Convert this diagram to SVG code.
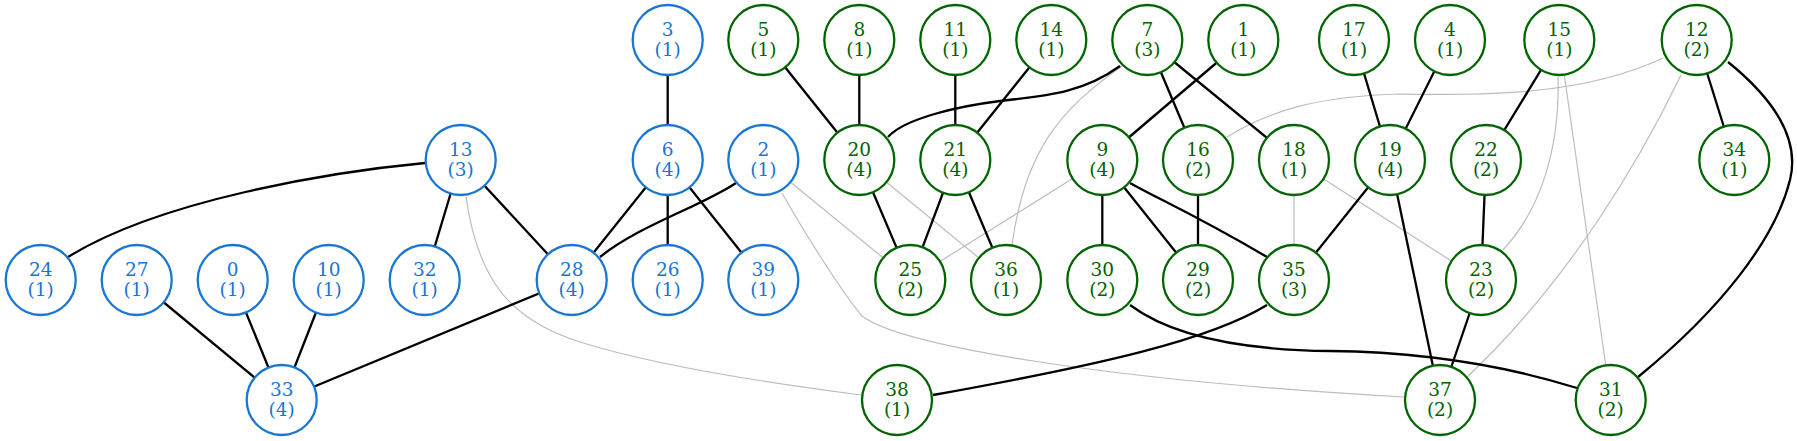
<svg xmlns="http://www.w3.org/2000/svg" width="1797" height="441" viewBox="0 0 1797 441">
<style>
  .e path, .e line { fill: none; }
  .k { stroke: #000; stroke-width: 2.3; }
  .s { stroke: #bdbdbd; stroke-width: 1.2; }
  .n circle { fill: #fff; stroke-width: 2.3; }
  .n text { font-family: "DejaVu Serif", serif; font-size: 18.5px; text-anchor: middle; }
  .b circle { stroke: #1976d2; }
  .b text { fill: #1976d2; }
  .g circle { stroke: #006400; }
  .g text { fill: #006400; }
</style>
<rect width="1797" height="441" fill="#fff"/>
<g id="connectors" class="e">
  <!-- gray edges -->
  <path class="s" d="M466,197 C478,280 510,320 580,342 S760,382 861,395"/>
  <path class="s" d="M782,193 C800,225 840,290 862,316 C900,345 1100,380 1404,397"/>
  <line class="s" x1="763.3" y1="160" x2="910.3" y2="280"/>
  <line class="s" x1="859.3" y1="160" x2="1006" y2="280"/>
  <line class="s" x1="1102.3" y1="160" x2="910.3" y2="280"/>
  <path class="s" d="M1122,66 C1060,110 1025,150 1012,245"/>
  <path class="s" d="M1227,137 C1270,110 1320,96 1400,94 C1480,95 1580,97 1663,58"/>
  <line class="s" x1="1294" y1="160" x2="1294" y2="280"/>
  <line class="s" x1="1294" y1="160" x2="1481" y2="280"/>
  <path class="s" d="M1558,77 C1560,150 1540,210 1503,250"/>
  <line class="s" x1="1559.3" y1="40" x2="1610.7" y2="400"/>
  <path class="s" d="M1681,75 C1640,160 1570,280 1467,377"/>
  <!-- black edges -->
  <path class="k" d="M425,163 C330,172 160,200 68,257"/>
  <line class="k" x1="460.7" y1="160" x2="424.7" y2="280"/>
  <line class="k" x1="460.7" y1="160" x2="571.7" y2="280"/>
  <line class="k" x1="136.7" y1="280" x2="281.7" y2="400"/>
  <line class="k" x1="232.7" y1="280" x2="281.7" y2="400"/>
  <line class="k" x1="328.7" y1="280" x2="281.7" y2="400"/>
  <line class="k" x1="571.7" y1="280" x2="281.7" y2="400"/>
  <line class="k" x1="667.7" y1="40" x2="667.7" y2="160"/>
  <line class="k" x1="667.7" y1="160" x2="571.7" y2="280"/>
  <line class="k" x1="667.7" y1="160" x2="667.7" y2="280"/>
  <line class="k" x1="667.7" y1="160" x2="763.3" y2="280"/>
  <path class="k" d="M736,183 C700,207 640,225 600,257"/>
  <line class="k" x1="763.3" y1="40" x2="859.3" y2="160"/>
  <line class="k" x1="859.3" y1="40" x2="859.3" y2="160"/>
  <line class="k" x1="955.3" y1="40" x2="955.3" y2="160"/>
  <line class="k" x1="1051.3" y1="40" x2="955.3" y2="160"/>
  <path class="k" d="M1120,66 C1080,95 1040,96 1000,101 S905,118 888,137"/>
  <line class="k" x1="859.3" y1="160" x2="910.3" y2="280"/>
  <line class="k" x1="955.3" y1="160" x2="910.3" y2="280"/>
  <line class="k" x1="955.3" y1="160" x2="1006" y2="280"/>
  <line class="k" x1="1147.3" y1="40" x2="1198" y2="160"/>
  <line class="k" x1="1147.3" y1="40" x2="1294" y2="160"/>
  <line class="k" x1="1243.3" y1="40" x2="1102.3" y2="160"/>
  <line class="k" x1="1102.3" y1="160" x2="1102.3" y2="280"/>
  <line class="k" x1="1102.3" y1="160" x2="1198" y2="280"/>
  <path class="k" d="M1130,183 C1160,200 1190,212 1267,257"/>
  <line class="k" x1="1198" y1="160" x2="1198" y2="280"/>
  <line class="k" x1="1354" y1="40" x2="1390" y2="160"/>
  <line class="k" x1="1450" y1="40" x2="1390" y2="160"/>
  <line class="k" x1="1390" y1="160" x2="1294" y2="280"/>
  <line class="k" x1="1390" y1="160" x2="1440" y2="400"/>
  <line class="k" x1="1559.3" y1="40" x2="1486" y2="160"/>
  <line class="k" x1="1486" y1="160" x2="1481" y2="280"/>
  <line class="k" x1="1481" y1="280" x2="1440" y2="400"/>
  <line class="k" x1="1696.7" y1="40" x2="1734.3" y2="160"/>
  <path class="k" d="M1728,62 C1775,100 1800,140 1790,180 C1775,240 1720,310 1638,377"/>
  <path class="k" d="M1130,305 C1170,335 1240,350 1330,351 C1420,352 1500,364 1577,388"/>
  <path class="k" d="M1267,305 C1210,340 1100,365 933,395"/>
</g>
<g id="node-24" class="n b"><circle cx="40.7" cy="280" r="35"/><text x="40.7" y="275.7">24</text><text x="40.7" y="295.7">(1)</text></g>
<g id="node-27" class="n b"><circle cx="136.7" cy="280" r="35"/><text x="136.7" y="275.7">27</text><text x="136.7" y="295.7">(1)</text></g>
<g id="node-0" class="n b"><circle cx="232.7" cy="280" r="35"/><text x="232.7" y="275.7">0</text><text x="232.7" y="295.7">(1)</text></g>
<g id="node-10" class="n b"><circle cx="328.7" cy="280" r="35"/><text x="328.7" y="275.7">10</text><text x="328.7" y="295.7">(1)</text></g>
<g id="node-32" class="n b"><circle cx="424.7" cy="280" r="35"/><text x="424.7" y="275.7">32</text><text x="424.7" y="295.7">(1)</text></g>
<g id="node-13" class="n b"><circle cx="460.7" cy="160" r="35"/><text x="460.7" y="155.7">13</text><text x="460.7" y="175.7">(3)</text></g>
<g id="node-28" class="n b"><circle cx="571.7" cy="280" r="35"/><text x="571.7" y="275.7">28</text><text x="571.7" y="295.7">(4)</text></g>
<g id="node-33" class="n b"><circle cx="281.7" cy="400" r="35"/><text x="281.7" y="395.7">33</text><text x="281.7" y="415.7">(4)</text></g>
<g id="node-3" class="n b"><circle cx="667.7" cy="40" r="35"/><text x="667.7" y="35.7">3</text><text x="667.7" y="55.7">(1)</text></g>
<g id="node-6" class="n b"><circle cx="667.7" cy="160" r="35"/><text x="667.7" y="155.7">6</text><text x="667.7" y="175.7">(4)</text></g>
<g id="node-26" class="n b"><circle cx="667.7" cy="280" r="35"/><text x="667.7" y="275.7">26</text><text x="667.7" y="295.7">(1)</text></g>
<g id="node-2" class="n b"><circle cx="763.3" cy="160" r="35"/><text x="763.3" y="155.7">2</text><text x="763.3" y="175.7">(1)</text></g>
<g id="node-39" class="n b"><circle cx="763.3" cy="280" r="35"/><text x="763.3" y="275.7">39</text><text x="763.3" y="295.7">(1)</text></g>
<g id="node-5" class="n g"><circle cx="763.3" cy="40" r="35"/><text x="763.3" y="35.7">5</text><text x="763.3" y="55.7">(1)</text></g>
<g id="node-8" class="n g"><circle cx="859.3" cy="40" r="35"/><text x="859.3" y="35.7">8</text><text x="859.3" y="55.7">(1)</text></g>
<g id="node-11" class="n g"><circle cx="955.3" cy="40" r="35"/><text x="955.3" y="35.7">11</text><text x="955.3" y="55.7">(1)</text></g>
<g id="node-14" class="n g"><circle cx="1051.3" cy="40" r="35"/><text x="1051.3" y="35.7">14</text><text x="1051.3" y="55.7">(1)</text></g>
<g id="node-7" class="n g"><circle cx="1147.3" cy="40" r="35"/><text x="1147.3" y="35.7">7</text><text x="1147.3" y="55.7">(3)</text></g>
<g id="node-1" class="n g"><circle cx="1243.3" cy="40" r="35"/><text x="1243.3" y="35.7">1</text><text x="1243.3" y="55.7">(1)</text></g>
<g id="node-17" class="n g"><circle cx="1354" cy="40" r="35"/><text x="1354" y="35.7">17</text><text x="1354" y="55.7">(1)</text></g>
<g id="node-4" class="n g"><circle cx="1450" cy="40" r="35"/><text x="1450" y="35.7">4</text><text x="1450" y="55.7">(1)</text></g>
<g id="node-15" class="n g"><circle cx="1559.3" cy="40" r="35"/><text x="1559.3" y="35.7">15</text><text x="1559.3" y="55.7">(1)</text></g>
<g id="node-12" class="n g"><circle cx="1696.7" cy="40" r="35"/><text x="1696.7" y="35.7">12</text><text x="1696.7" y="55.7">(2)</text></g>
<g id="node-20" class="n g"><circle cx="859.3" cy="160" r="35"/><text x="859.3" y="155.7">20</text><text x="859.3" y="175.7">(4)</text></g>
<g id="node-21" class="n g"><circle cx="955.3" cy="160" r="35"/><text x="955.3" y="155.7">21</text><text x="955.3" y="175.7">(4)</text></g>
<g id="node-9" class="n g"><circle cx="1102.3" cy="160" r="35"/><text x="1102.3" y="155.7">9</text><text x="1102.3" y="175.7">(4)</text></g>
<g id="node-16" class="n g"><circle cx="1198" cy="160" r="35"/><text x="1198" y="155.7">16</text><text x="1198" y="175.7">(2)</text></g>
<g id="node-18" class="n g"><circle cx="1294" cy="160" r="35"/><text x="1294" y="155.7">18</text><text x="1294" y="175.7">(1)</text></g>
<g id="node-19" class="n g"><circle cx="1390" cy="160" r="35"/><text x="1390" y="155.7">19</text><text x="1390" y="175.7">(4)</text></g>
<g id="node-22" class="n g"><circle cx="1486" cy="160" r="35"/><text x="1486" y="155.7">22</text><text x="1486" y="175.7">(2)</text></g>
<g id="node-34" class="n g"><circle cx="1734.3" cy="160" r="35"/><text x="1734.3" y="155.7">34</text><text x="1734.3" y="175.7">(1)</text></g>
<g id="node-25" class="n g"><circle cx="910.3" cy="280" r="35"/><text x="910.3" y="275.7">25</text><text x="910.3" y="295.7">(2)</text></g>
<g id="node-36" class="n g"><circle cx="1006" cy="280" r="35"/><text x="1006" y="275.7">36</text><text x="1006" y="295.7">(1)</text></g>
<g id="node-30" class="n g"><circle cx="1102.3" cy="280" r="35"/><text x="1102.3" y="275.7">30</text><text x="1102.3" y="295.7">(2)</text></g>
<g id="node-29" class="n g"><circle cx="1198" cy="280" r="35"/><text x="1198" y="275.7">29</text><text x="1198" y="295.7">(2)</text></g>
<g id="node-35" class="n g"><circle cx="1294" cy="280" r="35"/><text x="1294" y="275.7">35</text><text x="1294" y="295.7">(3)</text></g>
<g id="node-23" class="n g"><circle cx="1481" cy="280" r="35"/><text x="1481" y="275.7">23</text><text x="1481" y="295.7">(2)</text></g>
<g id="node-38" class="n g"><circle cx="897" cy="400" r="35"/><text x="897" y="395.7">38</text><text x="897" y="415.7">(1)</text></g>
<g id="node-37" class="n g"><circle cx="1440" cy="400" r="35"/><text x="1440" y="395.7">37</text><text x="1440" y="415.7">(2)</text></g>
<g id="node-31" class="n g"><circle cx="1610.7" cy="400" r="35"/><text x="1610.7" y="395.7">31</text><text x="1610.7" y="415.7">(2)</text></g>
</svg>
